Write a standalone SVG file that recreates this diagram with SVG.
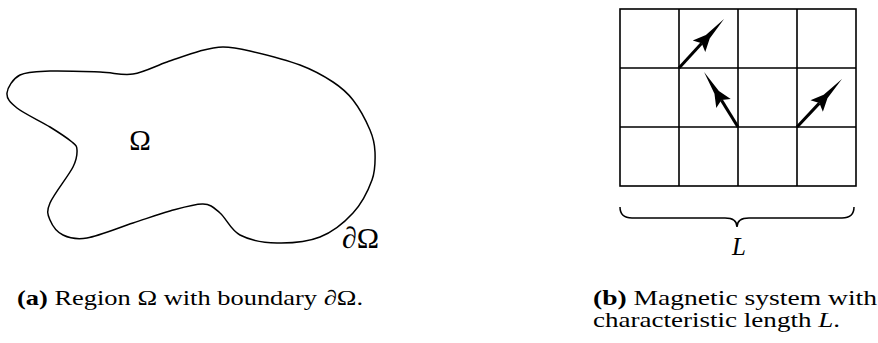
<svg xmlns="http://www.w3.org/2000/svg" width="878" height="343" viewBox="0 0 878 343">
<style>
  .txt { font-family: "Liberation Serif", "DejaVu Serif", serif; fill: #000; }
  .cap { font-size: 21px; }
  .grid { stroke: #000; stroke-width: 1.6; fill: none; }
  .spin { stroke: #000; stroke-width: 3; fill: none; }
  .line { stroke: #000; stroke-width: 1.5; fill: none; }
</style>
<defs>
  <marker id="stealth" viewBox="-6 -10 42 20" refX="0" refY="0" markerWidth="42" markerHeight="20" markerUnits="userSpaceOnUse" orient="auto">
    <path d="M33,0 L9,-2.6 L-4,-8.5 L0,0 L-4,8.5 L9,2.6 Z" fill="#000"/>
  </marker>
</defs>
<rect width="878" height="343" fill="#fff"/>

<g id="region">
  <path class="line" d="M7,93 C7.5,87.5 12.8,78.7 20,75 C27.2,71.3 36.7,71.5 50,71 C63.3,70.5 86.2,71.5 100,72 C113.8,72.5 121.8,75.7 133,74 C144.2,72.3 155.8,65.8 167,62 C178.2,58.2 190.7,53.5 200,51 C209.3,48.5 214.7,47 223,47 C231.3,47 237.2,48 250,51 C262.8,54 286.2,59.8 300,65 C313.8,70.2 324.2,76.2 333,82 C341.8,87.8 346.8,92 353,100 C359.2,108 366.3,121.3 370,130 C373.7,138.7 374.7,143.7 375,152 C375.3,160.3 375.7,169.8 372,180 C368.3,190.2 361.7,203.5 353,213 C344.3,222.5 332.7,232 320,237 C307.3,242 290.3,243.3 277,243 C263.7,242.7 249.5,240 240,235 C230.5,230 226.2,218.2 220,213 C213.8,207.8 211.3,204.3 203,204 C194.7,203.7 181.7,207.8 170,211 C158.3,214.2 146.8,218.5 133,223 C119.2,227.5 98.7,236 87,238 C75.3,240 69.2,238 63,235 C56.8,232 52.2,225.3 50,220 C47.8,214.7 46.2,211.8 50,203 C53.8,194.2 68.5,175.8 73,167 C77.5,158.2 77.2,154.2 77,150 C76.8,145.8 76.5,145.8 72,142 C67.5,138.2 59.2,132.7 50,127 C40.8,121.3 24.2,113.7 17,108 C9.8,102.3 6.5,98.5 7,93 Z"/>
  <text class="txt" x="140" y="150" font-size="29" text-anchor="middle">Ω</text>
  <text class="txt" x="342" y="248" font-size="30">∂Ω</text>
</g>

<g id="lattice">
  <rect class="grid" x="620" y="9" width="236" height="177"/>
  <path class="grid" d="M679,9 V186 M738,9 V186 M797,9 V186 M620,68 H856 M620,127 H856"/>
</g>

<g id="spins">
  <path class="spin" d="M679,68 L701.7,43.3" marker-end="url(#stealth)"/>
  <path class="spin" d="M738,127 L721.4,100.1" marker-end="url(#stealth)"/>
  <path class="spin" d="M797,127 L819.4,103.1" marker-end="url(#stealth)"/>
</g>

<g id="brace">
  <path class="line" d="M620,207 Q620,218 632,218 L725,218 Q737,218 737,227 Q737,218 749,218 L842,218 Q854,218 854,207"/>
  <text class="txt" x="739" y="255" font-size="25" font-style="italic" text-anchor="middle">L</text>
</g>

<g id="captions">
  <text class="txt cap" x="17" y="305" textLength="346" lengthAdjust="spacingAndGlyphs"><tspan font-weight="bold">(a)</tspan> Region Ω with boundary ∂Ω.</text>
  <text class="txt cap" x="593" y="305" textLength="284" lengthAdjust="spacingAndGlyphs"><tspan font-weight="bold">(b)</tspan> Magnetic system with</text>
  <text class="txt cap" x="593" y="327" textLength="247" lengthAdjust="spacingAndGlyphs">characteristic length <tspan font-style="italic">L</tspan>.</text>
</g>
</svg>
